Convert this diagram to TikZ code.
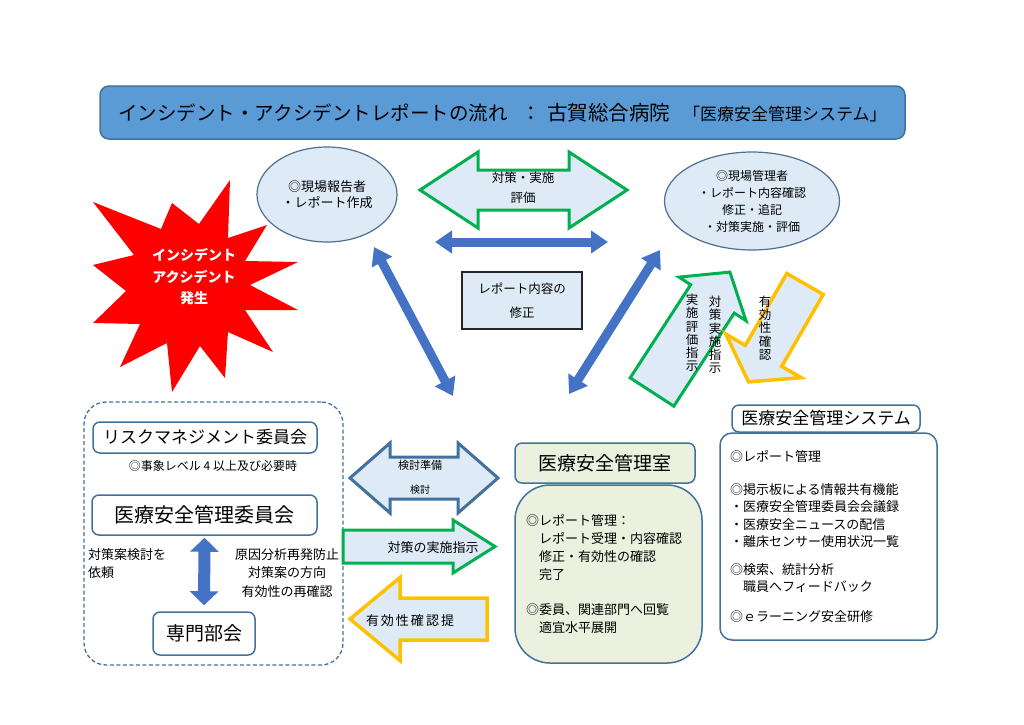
\documentclass[tikz,border=0pt]{standalone}
\usepackage{fontspec}
\setmainfont{Noto Sans CJK JP}
\usetikzlibrary{arrows.meta,shapes.geometric}
\definecolor{titlefill}{HTML}{5B9BD5}
\definecolor{edge}{HTML}{41719C}
\definecolor{ellline}{HTML}{4F6F8F}
\definecolor{lblue}{HTML}{DEEBF7}
\definecolor{bblue}{HTML}{4472C4}
\definecolor{ggreen}{HTML}{00B050}
\definecolor{yyellow}{HTML}{FFC000}
\definecolor{lgreen}{HTML}{EBF1DE}
\newcommand\fsz[2]{\fontsize{#1}{#2}\selectfont}
\tikzset{
 titlebox/.style={draw=edge, fill=titlefill, line width=1.5pt, rounded corners=9pt, minimum width=805pt, minimum height=53pt, font=\fsz{19.5}{22}, inner sep=0pt},
 ell/.style={ellipse, draw=ellline, fill=lblue, line width=1.2pt, align=center, inner sep=0pt},
 plainbox/.style={draw=black!85, fill=lblue, line width=1.2pt, align=center, font=\fsz{12.5}{24}, inner sep=0pt},
 garrow/.style={draw=ggreen, fill=lblue, line width=3pt},
 yarrow/.style={draw=yyellow, fill=lblue, line width=3.5pt},
 barrow/.style={draw=edge, fill=lblue, line width=3pt},
 bluearr/.style={draw=bblue, line width=9pt, {Triangle[length=17pt,width=22pt]}-{Triangle[length=17pt,width=22pt]}},
 vtext/.style={align=center, font=\fsz{12.5}{13.2}, inner sep=0pt},
 txt/.style={font=\fsz{13}{18}, inner sep=0pt},
 rbox/.style={draw=edge, line width=1.5pt, rounded corners=7pt, fill=white, inner sep=0pt},
 dashbox/.style={draw=edge, dashed, dash pattern=on 4pt off 2.5pt, line width=1.3pt, rounded corners=22pt, inner sep=0pt},
 greenbox/.style={rbox, fill=lgreen},
 pics/sarr/.style n args={4}{code={\path[pic actions] (0,{-(#2)/2}) -- ({#1-#4},{-(#2)/2}) -- ({#1-#4},{-(#3)/2}) -- (#1,0) -- ({#1-#4},{(#3)/2}) -- ({#1-#4},{(#2)/2}) -- (0,{(#2)/2}) -- cycle;}},
 pics/darr/.style n args={4}{code={\path[pic actions] (0,0) -- (#4,{-(#3)/2}) -- (#4,{-(#2)/2}) -- ({#1-#4},{-(#2)/2}) -- ({#1-#4},{-(#3)/2}) -- (#1,0) -- ({#1-#4},{(#3)/2}) -- ({#1-#4},{(#2)/2}) -- (#4,{(#2)/2}) -- (#4,{(#3)/2}) -- cycle;}},
}
\begin{document}
\begin{tikzpicture}[x=1pt,y=-1pt]
\useasboundingbox (0,0) rectangle (1024,724);

% title
\node[titlebox] (title) at (502.5,112.5) {\raisebox{-2pt}{インシデント・アクシデントレポートの流れ\hspace{14pt}：\hspace{6pt}{\fsz{20.5}{22}古賀総合病院}\hspace{13pt}{\fsz{17}{17}「医療安全管理システム」}}};

% ellipses
\node[ell, minimum width=140pt, minimum height=95pt, font=\fsz{13}{16.5}] (reporter) at (327,194.5) {◎現場報告者\\・レポート作成};
\node[ell, minimum width=175pt, minimum height=98pt, font=\fsz{12}{17}] (manager) at (752,201) {◎現場管理者\\・レポート内容確認\\修正・追記\\・対策実施・評価};

% starburst
\fill[red] (230,180) -- (228,238) -- (267,225) -- (245,261) -- (298,262) -- (250,285) -- (298,310) -- (245,310) -- (273,352) -- (228,332) -- (225,378) -- (200,346) -- (172,392) -- (167,343) -- (120,367) -- (140,324) -- (93,323) -- (126,291) -- (93,265) -- (134,255) -- (93,202) -- (161,229) -- (172,203) -- (199,224) -- cycle;
\node[align=center, text=white, font=\bfseries\fsz{14}{21.5}, inner sep=0pt] (burst) at (194,277) {インシデント\\アクシデント\\発生};

% top green double arrow
\pic[garrow] at (420,190) {darr={207}{40}{76}{58}};
\node[align=center, font=\fsz{12.5}{20}, inner sep=0pt] (taisaku) at (523,188) {対策・実施\\評価};

% blue connectors
\coordinate (h1) at (435,242); \coordinate (h2) at (608,242);
\draw[bluearr] (h1) -- (h2);
\coordinate (l1) at (374,247); \coordinate (l2) at (453,396);
\draw[bluearr] (l1) -- (l2);
\coordinate (r1) at (660,250); \coordinate (r2) at (569,394);
\draw[bluearr] (r1) -- (r2);

% correction box
\node[plainbox, minimum width=120pt, minimum height=57pt] (shusei) at (522,300.5) {レポート内容の\\修正};

% slanted arrows
\pic[garrow, rotate=57] at (652,392) {sarr={143}{52}{80}{32}};
\node[vtext] (jisshi) at (692,333) {実\\施\\評\\価\\指\\示};
\node[vtext] (taisakujisshi) at (715,335) {対\\策\\実\\施\\指\\示};
\pic[yarrow, rotate=-120] at (805,284) {sarr={113}{42}{87}{30}};
\node[vtext] (yuko) at (765,328) {有\\効\\性\\確\\認};

% left group
\node[dashbox, minimum width=259pt, minimum height=263pt] (group) at (213.5,533.5) {};
\node[rbox, minimum width=224pt, minimum height=31pt, font=\fsz{17}{20}] (risk) at (205,437.5) {リスクマネジメント委員会};
\node[font=\fsz{12}{14}, inner sep=0pt] (level) at (213,466) {◎事象レベル 4 以上及び必要時};
\node[rbox, minimum width=225pt, minimum height=40pt, font=\fsz{20}{22}] (iinkai) at (204.5,515) {医療安全管理委員会};
\node[rbox, minimum width=102pt, minimum height=43pt, font=\fsz{19}{22}] (senmon) at (204,633.5) {専門部会};
\draw[draw=bblue, line width=12pt, {Triangle[length=14pt,width=28pt]}-{Triangle[length=14pt,width=28pt]}, shorten <=2pt, shorten >=6pt] (iinkai.south) -- (senmon.north);
\node[txt, align=left, anchor=west] (irai) at (88,564) {対策案検討を\\依頼};
\node[txt, align=center, font=\fsz{13}{18.5}] (genin) at (287,573) {原因分析再発防止\\対策案の方向\\有効性の再確認};

% middle arrows
\pic[barrow] at (350,478) {darr={148}{42}{70}{40}};
\node[align=center, inner sep=0pt, font=\fsz{11}{24}] (kento) at (420,477) {検討準備\\{\fsz{10}{24}検討}};
\pic[garrow] at (343,546.5) {sarr={152}{33}{53}{42}};
\node[txt] (shiji) at (433,548) {対策の実施指示};
\pic[yarrow, rotate=180] at (487,619) {sarr={137}{42}{83}{50}};
\node[txt] (teikyo) at (410,621) {有\kern2pt 効\kern2pt 性\kern2pt 確\kern2pt 認\kern2pt 提};

% safety management room
\node[greenbox, minimum width=180pt, minimum height=40pt, font=\fsz{19}{22}] (room) at (605,463) {医療安全管理室};
\node[greenbox, rounded corners=35pt, minimum width=187pt, minimum height=178pt, text width=165pt, inner xsep=11pt, align=left, font=\fsz{13}{17.8}] (roomtask) at (608.5,574) {◎レポート管理：\\　レポート受理・内容確認\\　修正・有効性の確認\\　完了\\[17.8pt]◎委員、関連部門へ回覧\\　適宜水平展開};

% system
\node[rbox, minimum width=188pt, minimum height=27pt, font=\fsz{17}{20}] (system) at (826,418.5) {医療安全管理システム};
\node[rbox, rounded corners=12pt, minimum width=217pt, minimum height=207pt, text width=197pt, inner xsep=10pt, align=left, font=\fsz{13}{17.5}] (systask) at (828.5,536.5) {◎レポート管理\\[15.5pt]◎掲示板による情報共有機能\\・医療安全管理委員会会議録\\・医療安全ニュースの配信\\・離床センサー使用状況一覧\\[10pt]◎検索、統計分析\\　職員へフィードバック\\[12pt]◎ｅラーニング安全研修};
\end{tikzpicture}
\end{document}
